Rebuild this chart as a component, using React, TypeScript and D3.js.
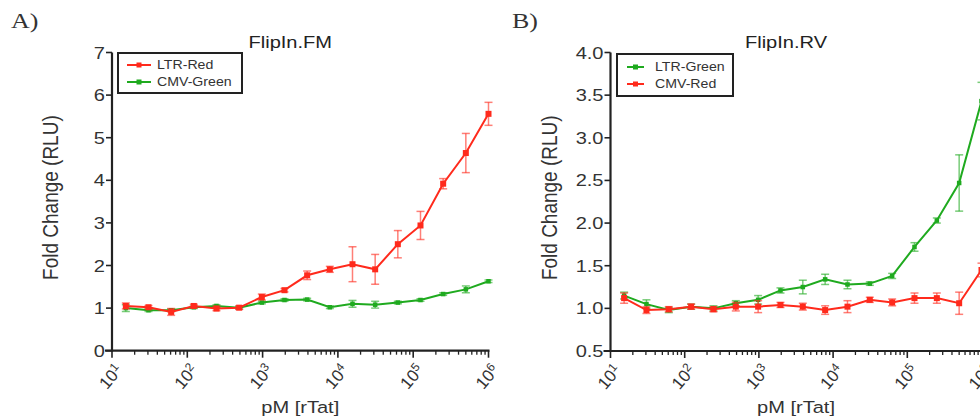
import React from "react";
import * as d3 from "d3";

const doses = [15.26, 30.52, 61.04, 122.1, 244.1, 488.3, 976.6, 1953, 3906, 7813, 15625, 31250, 62500, 125000, 250000, 500000, 1000000];

// Panel A: FlipIn.FM
const fmLtrRed = [1.05, 1.02, 0.91, 1.05, 0.99, 1.01, 1.26, 1.42, 1.77, 1.91, 2.03, 1.91, 2.5, 2.94, 3.92, 4.64, 5.56];
const fmLtrRedErr = [0.07, 0.04, 0.08, 0.04, 0.05, 0.04, 0.07, 0.04, 0.1, 0.07, 0.41, 0.35, 0.32, 0.33, 0.12, 0.46, 0.27];
const fmCmvGreen = [1.0, 0.95, 0.95, 1.02, 1.05, 1.01, 1.13, 1.19, 1.2, 1.02, 1.1, 1.08, 1.13, 1.19, 1.33, 1.44, 1.63];
const fmCmvGreenErr = [0.08, 0.03, 0.03, 0.03, 0.03, 0.03, 0.03, 0.03, 0.03, 0.03, 0.08, 0.08, 0.03, 0.03, 0.03, 0.08, 0.03];

// Panel B: FlipIn.RV
const rvLtrGreen = [1.15, 1.05, 0.98, 1.02, 1.0, 1.06, 1.1, 1.21, 1.25, 1.34, 1.28, 1.29, 1.38, 1.72, 2.03, 2.47, 3.43];
const rvLtrGreenErr = [0.04, 0.05, 0.03, 0.03, 0.03, 0.03, 0.05, 0.03, 0.08, 0.06, 0.05, 0.02, 0.03, 0.05, 0.03, 0.33, 0.22];
const rvCmvRed = [1.12, 0.98, 0.99, 1.02, 0.99, 1.02, 1.02, 1.04, 1.02, 0.98, 1.02, 1.1, 1.07, 1.12, 1.12, 1.06, 1.45];
const rvCmvRedErr = [0.06, 0.04, 0.03, 0.03, 0.03, 0.05, 0.07, 0.03, 0.04, 0.05, 0.07, 0.03, 0.04, 0.06, 0.06, 0.13, 0.08];

const yTicksA = [0, 1, 2, 3, 4, 5, 6, 7];
const yTicksB = [0.5, 1.0, 1.5, 2.0, 2.5, 3.0, 3.5, 4.0];
const xDecades = [1, 2, 3, 4, 5, 6];

const RED = "#ff2a1c";
const GREEN = "#1faa1f";
const AX = "#222";
const FONT = "'Liberation Sans', Arial, Helvetica, sans-serif";
const SX = 1.18;

type Series = { name: string; values: number[]; errs: number[]; color: string; marker: number };

function Panel(props: {
  x0: number; x1: number; yTop: number; yBot: number; yDomain: [number, number];
  yTicks: number[]; yFmt: (v: number) => string; title: string; letter: string;
  letterX: number; series: Series[]; legendOrder: Series[]; legend: { x: number; y: number; w: number; h: number; lx0: number; lx1: number; tx: number; rows: number[] };
}) {
  const { x0, x1, yTop, yBot } = props;
  const x = d3.scaleLog().domain([10, 1e6]).range([x0, x1]);
  const y = d3.scaleLinear().domain(props.yDomain).range([yBot, yTop]);
  const line = d3.line<number>().x((_, i) => x(doses[i])).y((v) => y(v));
  const minor: number[] = [];
  for (let e = 1; e < 6; e++) for (let m = 2; m <= 9; m++) minor.push(m * Math.pow(10, e));
  const cx = (x0 + x1) / 2;
  const L = props.legend;
  return (
    <g>
      <text transform={`translate(${props.letterX},28) scale(${SX},1)`} fontFamily="'Liberation Serif', 'DejaVu Serif', serif" fontSize={22} fill="#333">{props.letter}</text>
      <text transform={`translate(${cx - 10},48) scale(${SX},1)`} textAnchor="middle" fontFamily={FONT} fontSize={17} fill="#222">{props.title}</text>
      {/* series */}
      {props.series.map((s) => (
        <g key={s.name}>
          {s.values.map((v, i) => {
            const px = x(doses[i]);
            const t = y(v + s.errs[i]);
            const b = y(v - s.errs[i]);
            return (
              <g key={i} stroke={s.color} strokeOpacity={0.6} strokeWidth={1.5}>
                <line x1={px} x2={px} y1={t} y2={b} />
                <line x1={px - 4} x2={px + 4} y1={t} y2={t} />
                <line x1={px - 4} x2={px + 4} y1={b} y2={b} />
              </g>
            );
          })}
          <path d={line(s.values) || ""} fill="none" stroke={s.color} strokeWidth={2} />
          {s.values.map((v, i) => (
            <rect key={i} x={x(doses[i]) - s.marker / 2} y={y(v) - s.marker / 2} width={s.marker} height={s.marker} fill={s.color} />
          ))}
        </g>
      ))}
      {/* axes */}
      <line x1={x0} x2={x0} y1={yTop} y2={yBot + 1} stroke={AX} strokeWidth={2.2} />
      <line x1={x0 - 7} x2={x1 + 1} y1={yBot} y2={yBot} stroke={AX} strokeWidth={2.2} />
      {props.yTicks.map((t) => (
        <g key={t}>
          <line x1={x0 - 6} x2={x0} y1={y(t)} y2={y(t)} stroke={AX} strokeWidth={1.6} />
          <text transform={`translate(${x0 - 7},${y(t) + 6}) scale(${SX},1)`} textAnchor="end" fontFamily={FONT} fontSize={17} fill="#333">{props.yFmt(t)}</text>
        </g>
      ))}
      {minor.map((m) => (
        <line key={m} x1={x(m)} x2={x(m)} y1={yBot} y2={yBot + 4} stroke={AX} strokeWidth={1.3} />
      ))}
      {xDecades.map((e) => {
        const px = x(Math.pow(10, e));
        return (
          <g key={e}>
            <line x1={px} x2={px} y1={yBot} y2={yBot + 7} stroke={AX} strokeWidth={1.6} />
            <text transform={`translate(${px + 2},${yBot + 12}) rotate(-50)`} textAnchor="end" fontFamily={FONT} fontSize={17} fill="#333" dy="0.72em">
              10<tspan fontSize={12} dy="-0.45em">{e}</tspan>
            </text>
          </g>
        );
      })}
      <text transform={`translate(${cx},413) scale(${SX},1)`} textAnchor="middle" fontFamily={FONT} fontSize={17} fill="#333">pM [rTat]</text>
      <text transform={`translate(${x0 - 54},${(yTop + yBot) / 2 - 4}) scale(${SX},1) rotate(-90)`} textAnchor="middle" fontFamily={FONT} fontSize={19} fill="#333">Fold Change (RLU)</text>
      {/* legend */}
      <rect x={L.x} y={L.y} width={L.w} height={L.h} fill="white" stroke={AX} strokeWidth={2} />
      {props.legendOrder.map((s, i) => (
        <g key={s.name}>
          <line x1={L.lx0} x2={L.lx1} y1={L.rows[i]} y2={L.rows[i]} stroke={s.color} strokeWidth={2} />
          <rect x={(L.lx0 + L.lx1) / 2 - 2.5} y={L.rows[i] - 2.5} width={5} height={5} fill={s.color} />
          <text transform={`translate(${L.tx},${L.rows[i] + 4}) scale(${SX},1)`} fontFamily={FONT} fontSize={12} fill="#333">{s.name}</text>
        </g>
      ))}
    </g>
  );
}

export default function App() {
  const aRed: Series = { name: "LTR-Red", values: fmLtrRed, errs: fmLtrRedErr, color: RED, marker: 6 };
  const aGreen: Series = { name: "CMV-Green", values: fmCmvGreen, errs: fmCmvGreenErr, color: GREEN, marker: 4.5 };
  const bGreen: Series = { name: "LTR-Green", values: rvLtrGreen, errs: rvLtrGreenErr, color: GREEN, marker: 4.5 };
  const bRed: Series = { name: "CMV-Red", values: rvCmvRed, errs: rvCmvRedErr, color: RED, marker: 6 };
  return (
    <svg width={980} height={418} style={{ position: "absolute", left: 0, top: 0, background: "white" }}>
      <rect width={980} height={418} fill="white" />
      <Panel x0={112} x1={488.5} yTop={52.5} yBot={350.7} yDomain={[0, 7]} yTicks={yTicksA} yFmt={(v) => String(v)}
        title="FlipIn.FM" letter="A)" letterX={11} series={[aGreen, aRed]} legendOrder={[aRed, aGreen]}
        legend={{ x: 118, y: 53, w: 124, h: 40, lx0: 127, lx1: 151, tx: 157, rows: [65, 82] }} />
      <Panel x0={610.5} x1={981.5} yTop={52.5} yBot={351} yDomain={[0.5, 4]} yTicks={yTicksB} yFmt={(v) => v.toFixed(1)}
        title="FlipIn.RV" letter="B)" letterX={512} series={[bGreen, bRed]} legendOrder={[bGreen, bRed]}
        legend={{ x: 617, y: 54, w: 116, h: 42, lx0: 627, lx1: 644, tx: 655, rows: [67, 84] }} />
    </svg>
  );
}
